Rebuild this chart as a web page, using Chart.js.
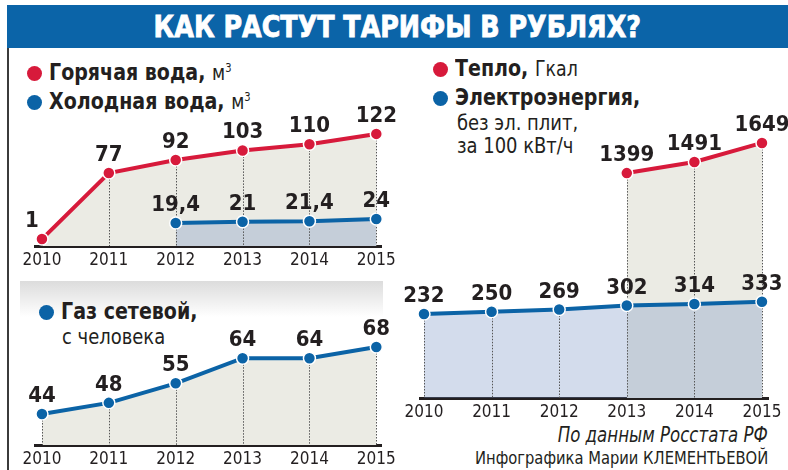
<!DOCTYPE html>
<html lang="ru">
<head>
<meta charset="utf-8">
<title>Как растут тарифы в рублях?</title>
<script src="https://cdn.jsdelivr.net/npm/chart.js@4.4.1/dist/chart.umd.min.js"></script>
<style>
  body { margin: 0; width: 788px; height: 470px; position: relative; overflow: hidden; background: #fff;
         font-family: 'Liberation Sans Narrow', 'Arial Narrow', 'DejaVu Sans Condensed', sans-serif; color: #231f20; }
  .titulo { position: absolute; left: 7px; top: 5px; width: 781px; height: 43px; background: #0b64a8; color: #fff;
            font-weight: bold; font-size: 30px; line-height: 44px; text-align: center; }
  .titulo span { display: inline-block; transform: scaleX(0.94); -webkit-text-stroke: 0.8px #fff; }
  .borde { position: absolute; left: 7px; top: 48px; width: 2px; height: 422px; background: #3b3b3b; }
  .franja { position: absolute; left: 20px; top: 281px; width: 363px; height: 36px; background: linear-gradient(#dcdcdc, #fff); }
  .leyenda { position: absolute; white-space: nowrap; }
  .linea { font-size: 23px; font-weight: bold; line-height: 29px; height: 29px; }
  .linea .txt { display: inline-block; transform: scaleX(0.92); transform-origin: left center; }
  .linea .unidad { font-weight: normal; font-size: 21px; }
  .sub { font-size: 21px; line-height: 23px; }
  .sub span { display: inline-block; transform: scaleX(0.95); transform-origin: left center; }
  .punto { display: inline-block; width: 15px; height: 15px; border-radius: 50%; margin-right: 7px; vertical-align: -1px; }
  .rojo { background: #d71a3b; }
  .azul { background: #0b63a6; }
  canvas { position: absolute; }
  .fuente { position: absolute; right: 20px; white-space: nowrap; transform-origin: right center; }
</style>
</head>
<body>
<div class="titulo"><span>КАК РАСТУТ ТАРИФЫ В РУБЛЯХ?</span></div>
<div class="borde"></div>
<div class="franja"></div>

<div class="leyenda" style="left: 27px; top: 54px;">
  <div class="linea"><span class="punto rojo"></span><span class="txt">Горячая вода, <span class="unidad">м<sup style="font-size:12px">3</sup></span></span></div>
  <div class="linea"><span class="punto azul"></span><span class="txt">Холодная вода, <span class="unidad">м<sup style="font-size:12px">3</sup></span></span></div>
</div>

<div class="leyenda" style="left: 39px; top: 297px;">
  <div class="linea"><span class="punto azul"></span><span class="txt">Газ сетевой,</span></div>
  <div class="sub" style="padding-left: 23px;"><span>с человека</span></div>
</div>

<div class="leyenda" style="left: 433px; top: 54px;">
  <div class="linea"><span class="punto rojo"></span><span class="txt">Тепло, <span class="unidad">Гкал</span></span></div>
  <div class="linea"><span class="punto azul"></span><span class="txt">Электроэнергия,</span></div>
  <div class="sub" style="padding-left: 24px;"><span>без эл. плит,</span></div>
  <div class="sub" style="padding-left: 24px;"><span>за 100 кВт/ч</span></div>
</div>

<div class="fuente" style="top: 423px; font-size: 21px; font-style: italic; transform: scaleX(0.88);">По данным Росстата РФ</div>
<div class="fuente" style="top: 447px; font-size: 18px; transform: scaleX(0.91);">Инфографика Марии КЛЕМЕНТЬЕВОЙ</div>

<canvas id="grafAgua" width="400" height="190" style="left: 0; top: 90px;"></canvas>
<canvas id="grafGas" width="400" height="170" style="left: 0; top: 300px;"></canvas>
<canvas id="grafEnergia" width="388" height="320" style="left: 400px; top: 100px;"></canvas>

<script>
const years = [2010, 2011, 2012, 2013, 2014, 2015];
const hotWater = [1, 77, 92, 103, 110, 122];
const coldWater = [null, null, 19.4, 21, 21.4, 24];
const gas = [44, 48, 55, 64, 64, 68];
const heat = [null, null, null, 1399, 1491, 1649];
const power = [232, 250, 269, 302, 314, 333];

const RED = '#d71a3b';
const BLUE = '#0b63a6';
const BEIGE = '#ebebe4';
const BLUE_FILL = 'rgba(108, 138, 192, 0.3)';
const INK = '#231f20';
const FONT = "'Liberation Sans Narrow', 'Arial Narrow', 'DejaVu Sans Condensed', sans-serif";

Chart.defaults.font.family = FONT;

function toPoints(values) {
    return years.map((x, i) => ({ x, y: values[i] })).filter(p => p.y !== null);
}

function serie(values, color, fillColor) {
    return {
        data: toPoints(values),
        borderColor: color,
        borderWidth: 4,
        backgroundColor: fillColor,
        fill: 'start',
        tension: 0,
        pointRadius: 6,
        pointHoverRadius: 6,
        pointBackgroundColor: color,
        pointBorderColor: '#fff',
        pointBorderWidth: 1.5,
        clip: false
    };
}

// dotted line from the highest point of every year down to the axis
const guides = {
    id: 'guides',
    beforeDatasetsDraw(chart) {
        const { ctx, chartArea } = chart;
        const tops = new Map();
        chart.getSortedVisibleDatasetMetas().forEach(meta => {
            meta.data.forEach(pt => {
                const key = Math.round(pt.x);
                if (!tops.has(key) || pt.y < tops.get(key)) tops.set(key, pt.y);
            });
        });
        ctx.save();
        ctx.strokeStyle = '#555';
        ctx.lineWidth = 1;
        ctx.setLineDash([1.5, 1.5]);
        tops.forEach((y, x) => {
            ctx.beginPath();
            ctx.moveTo(x + 0.5, y);
            ctx.lineTo(x + 0.5, chartArea.bottom);
            ctx.stroke();
        });
        ctx.restore();
    }
};

// bold value above every point
const valueLabels = {
    id: 'valueLabels',
    afterDatasetsDraw(chart) {
        const ctx = chart.ctx;
        ctx.save();
        ctx.font = `bold 22px ${FONT}`;
        ctx.fillStyle = INK;
        ctx.textAlign = 'center';
        ctx.textBaseline = 'alphabetic';
        chart.data.datasets.forEach((ds, i) => {
            chart.getDatasetMeta(i).data.forEach((pt, j) => {
                const v = ds.data[j].y;
                // the first hot-water label sits left of its point, clear of the line
                const dx = (v === 1) ? -10 : 0;
                ctx.fillText(String(v).replace('.', ','), pt.x + dx, pt.y - 12);
            });
        });
        ctx.restore();
    }
};

function crearGrafica(id, datasets, yMin, yMax, xMin, xMax, padding) {
    return new Chart(document.getElementById(id), {
        type: 'line',
        data: { datasets },
        options: {
            responsive: false,
            animation: false,
            events: [],
            layout: { padding },
            plugins: {
                legend: { display: false },
                tooltip: { enabled: false },
                filler: { drawTime: 'beforeDatasetsDraw' }
            },
            scales: {
                x: {
                    type: 'linear',
                    min: xMin,
                    max: xMax,
                    afterBuildTicks: axis => { axis.ticks = years.map(v => ({ value: v })); },
                    afterFit: axis => { axis.height = 22; },
                    grid: { display: false, drawTicks: false },
                    border: { display: true, color: INK, width: 3 },
                    ticks: {
                        color: INK,
                        font: { size: 17 },
                        padding: 4,
                        maxRotation: 0,
                        autoSkip: false,
                        callback: v => String(v)
                    }
                },
                y: { display: false, min: yMin, max: yMax }
            }
        },
        plugins: [guides, valueLabels]
    });
}

crearGrafica('grafAgua',
    [serie(coldWater, BLUE, BLUE_FILL), serie(hotWater, RED, BEIGE)],
    -7, 138, 2009.896, 2015.074,
    { left: 35, right: 17, top: 30, bottom: 12 });

crearGrafica('grafGas',
    [serie(gas, BLUE, BEIGE)],
    32.9, 74.1, 2009.896, 2015.074,
    { left: 35, right: 17, top: 30, bottom: 3 });

crearGrafica('grafEnergia',
    [serie(power, BLUE, BLUE_FILL), serie(heat, RED, BEIGE)],
    -464, 1756, 2009.941, 2015.089,
    { left: 20, right: 20, top: 30, bottom: 0 });
</script>
</body>
</html>
